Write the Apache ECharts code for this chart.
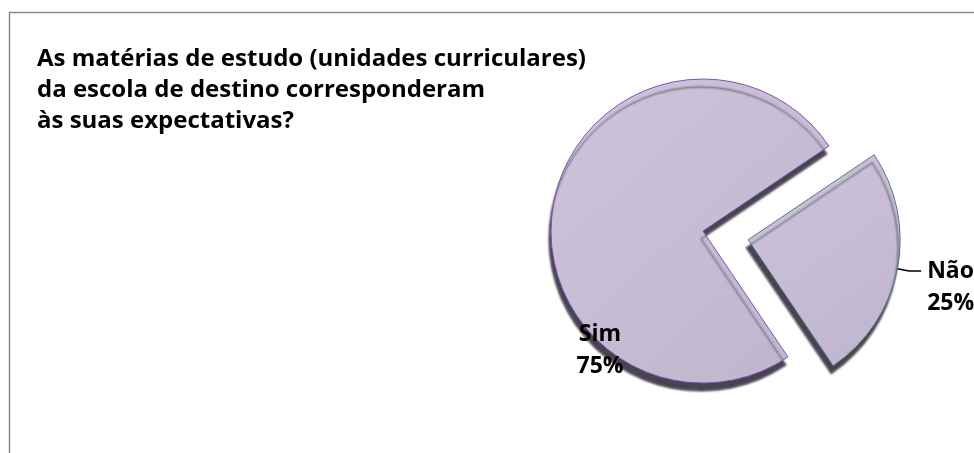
<!DOCTYPE html>
<html>
<head>
<meta charset="utf-8">
<script src="https://cdn.jsdelivr.net/npm/echarts@6/dist/echarts.min.js"></script>
<style>
html,body{margin:0;padding:0;background:#fff;}
#chart{width:974px;height:453px;}
</style>
</head>
<body>
<div id="chart"></div>
<script>
var categories = ['Não', 'Sim'];
var values = [25, 75];
var titleLines = ['As matérias de estudo (unidades curriculares)', 'da escola de destino corresponderam', 'às suas expectativas?'];

var chart = echarts.init(document.getElementById('chart'), null, {renderer: 'canvas'});

var faceColor = new echarts.graphic.LinearGradient(0, 0, 1, 1, [
  {offset: 0, color: '#cdc5db'},
  {offset: 1, color: '#bfb4cc'}
]);
var borderColors = ['#4e7a85', '#7d55b5'];

var data = categories.map(function (c, i) {
  return {
    name: c,
    value: values[i],
    selected: i === 0,
    itemStyle: {
      color: faceColor,
      borderColor: borderColors[i],
      borderWidth: 1
    }
  };
});
data[1].labelLine = {show: false};

var option = {
  animation: false,
  backgroundColor: '#ffffff',
  title: {
    text: titleLines.join('\n'),
    left: 32,
    top: 39,
    textStyle: {
      fontFamily: 'Open Sans',
      fontWeight: 'bold',
      fontSize: 24,
      lineHeight: 31,
      color: '#000000'
    }
  },
  graphic: [{
    type: 'polyline',
    silent: true,
    shape: {points: [[9.5, 453], [9.5, 12.5], [974, 12.5]]},
    style: {stroke: '#8a8a8a', lineWidth: 1.5, fill: null}
  }],
  series: [{
    type: 'pie',
    center: [703, 231],
    radius: 152,
    startAngle: 34,
    clockwise: true,
    selectedMode: 'single',
    selectedOffset: 46,
    avoidLabelOverlap: false,
    emphasis: {disabled: true},
    itemStyle: {
      shadowColor: 'rgba(62,57,72,0.95)',
      shadowBlur: 2,
      shadowOffsetX: -2,
      shadowOffsetY: 8
    },
    label: {
      show: true,
      position: 'outside',
      formatter: function (p) {
        var txt = p.name + '\n' + Math.round(p.percent) + '%';
        return p.dataIndex === 0 ? '\n' + txt : txt;
      },
      fontFamily: 'Open Sans',
      fontWeight: 'bold',
      fontSize: 23,
      lineHeight: 32,
      color: '#000000',
      align: 'center',
      distanceToLabelLine: 6
    },
    labelLine: {
      show: true,
      length: 12,
      length2: 12,
      lineStyle: {color: '#000000', width: 1.5}
    },
    labelLayout: function (params) {
      if (params.dataIndex === 1) {
        return {x: 600, y: 350, align: 'center', verticalAlign: 'middle'};
      }
      return {};
    },
    data: data
  }]
};
chart.setOption(option);
</script>
</body>
</html>
